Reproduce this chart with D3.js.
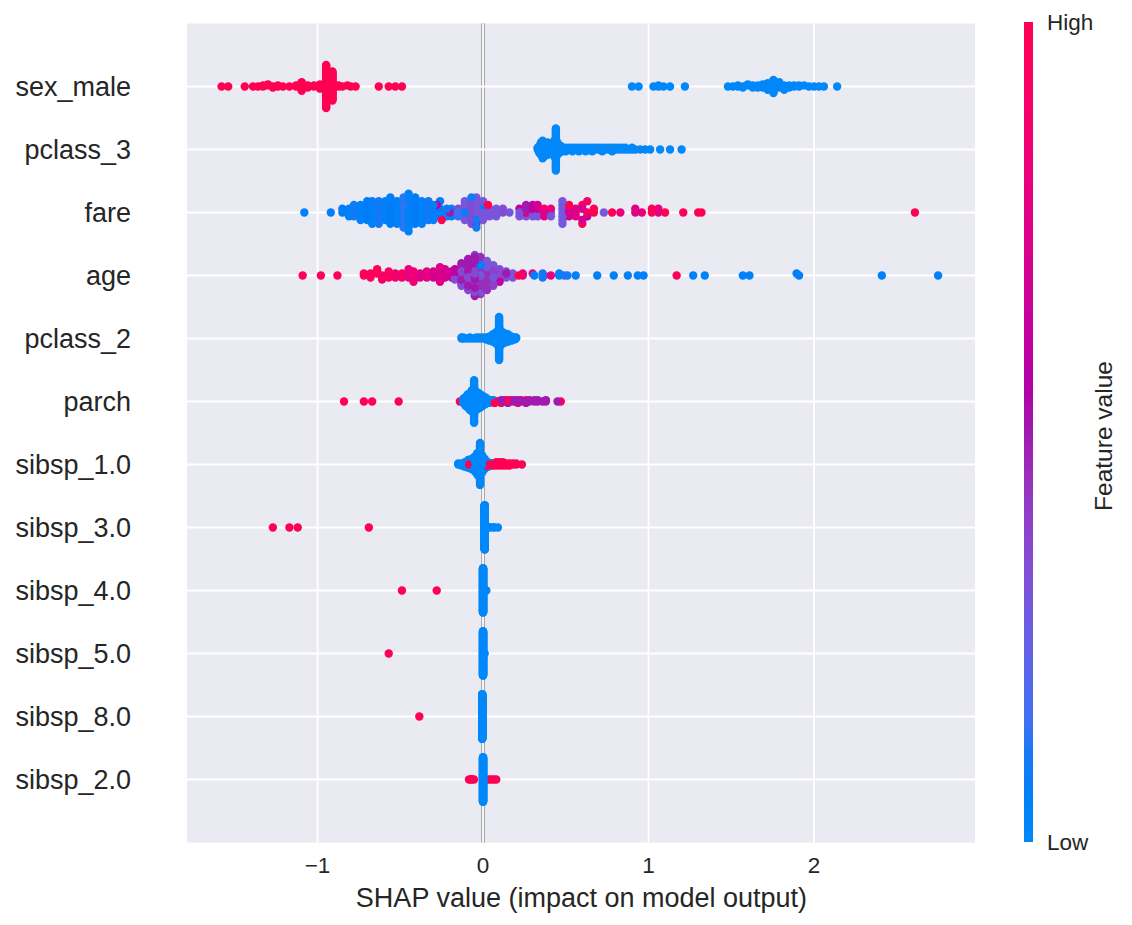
<!DOCTYPE html>
<html>
<head>
<meta charset="utf-8">
<script src="https://cdn.jsdelivr.net/npm/d3@7"></script>
<style>
  body { margin: 0; background: #fff; }
  text { font-family: "Liberation Sans", Arial, sans-serif; fill: #262626; }
</style>
</head>
<body>
<div id="chart"></div>
<script>
// features, top to bottom
const featureNames = ['sex_male', 'pclass_3', 'fare', 'age', 'pclass_2', 'parch',
  'sibsp_1.0', 'sibsp_3.0', 'sibsp_4.0', 'sibsp_5.0', 'sibsp_8.0', 'sibsp_2.0'];
const xTicks = [-1, 0, 1, 2];
const xTickLabels = ['\u22121', '0', '1', '2'];
const xTitle = 'SHAP value (impact on model output)';
const colorbarLabels = { low: 'Low', high: 'High', title: 'Feature value' };

// each entry: [shap value, feature value scaled 0 (low) .. 1 (high), number of samples]
const sexMale = [
  [-1.58,1,1],[-1.54,1,1],[-1.44,1,1],[-1.39,1,1],[-1.36,1,1],[-1.33,1,2],[-1.30,1,2],[-1.27,1,2],[-1.24,1,2],[-1.21,1,1],
  [-1.17,1,1],[-1.13,1,2],[-1.096,1,9],[-1.059,1,3],[-1.022,1,2],[-0.985,1,5],[-0.948,1,41],[-0.91,1,28],
  [-0.873,1,2],[-0.85,1,1],[-0.82,1,1],[-0.80,1,1],[-0.77,1,1],[-0.63,1,1],[-0.57,1,1],[-0.53,1,1],[-0.49,1,1],
  [0.90,0,1],[0.94,0,1],[1.03,0,1],[1.06,0,2],[1.09,0,1],[1.13,0,1],[1.22,0,1],
  [1.48,0,1],[1.51,0,1],[1.54,0,2],[1.57,0,2],[1.60,0,2],[1.63,0,3],[1.66,0,3],[1.69,0,4],[1.72,0,7],[1.755,0,13],[1.79,0,5],
  [1.82,0,3],[1.85,0,3],[1.88,0,2],[1.91,0,2],[1.94,0,1],[1.97,0,1],[2.00,0,1],[2.03,0,1],[2.06,0,1],[2.14,0,1]
];
const pclass3 = [
  [0.33,0,2],[0.34,0,5],[0.35,0,8],[0.36,0,11],[0.37,0,9],[0.38,0,7],[0.39,0,8],[0.40,0,6],[0.41,0,5],[0.42,0,6],
  [0.43,0,10],[0.44,0,25],[0.45,0,8],[0.46,0,5],[0.47,0,4],[0.48,0,3],
  [0.50,0,3],[0.52,0,2],[0.54,0,3],[0.56,0,2],[0.58,0,3],[0.60,0,2],[0.62,0,3],[0.64,0,2],[0.66,0,3],[0.68,0,2],
  [0.70,0,2],[0.72,0,3],[0.74,0,2],[0.76,0,2],[0.78,0,3],[0.80,0,2],[0.82,0,2],[0.84,0,2],[0.86,0,2],[0.88,0,1],
  [0.90,0,2],[0.92,0,1],[0.95,0,1],[0.98,0,1],[1.01,0,1],[1.07,0,1],[1.13,0,1],[1.20,0,1]
];
const fare = [
  [-1.08,0.05,1],[-0.92,0.05,1],[-0.85,0.08,2],[-0.81,0.05,3],[-0.78,0.1,4],[-0.74,0.05,5],[-0.70,0.08,6],[-0.67,0.05,6],[-0.67,1,1],
  [-0.63,0.1,7],[-0.59,0.05,6],[-0.56,0.08,8],[-0.52,0.05,7],[-0.48,0.12,9],[-0.45,0.05,11],[-0.41,0.08,8],[-0.37,0.05,7],[-0.33,0.1,6],
  [-0.30,0.05,5],[-0.28,0.6,1],[-0.26,0.08,4],[-0.25,1,1],[-0.22,0.1,3],[-0.20,0.5,1],[-0.19,0.05,2],[-0.15,0.15,2],[-0.15,0.35,1],
  [-0.11,0.3,4],[-0.11,0.1,2],[-0.07,0.35,5],[-0.07,0.1,3],[-0.04,0.3,5],[-0.04,0.5,2],[-0.04,0.1,2],[0.00,0.3,4],[0.00,0.08,2],
  [0.03,1,1],[0.04,0.3,3],[0.08,0.3,3],[0.12,0.35,2],[0.16,0.3,1],
  [0.22,0.3,2],[0.22,0.6,1],[0.26,0.5,2],[0.26,0.75,1],[0.26,0.3,1],[0.30,0.6,2],[0.30,0.3,1],[0.30,1,1],
  [0.33,0.7,2],[0.33,0.3,2],[0.37,0.75,2],[0.37,0.95,1],[0.41,0.3,2],[0.41,0.8,1],
  [0.48,0.28,7],
  [0.52,1,2],[0.52,0.7,2],[0.56,0.75,2],[0.56,1,1],[0.60,0.7,2],[0.60,1,2],[0.63,0.9,2],[0.63,0.6,1],[0.67,1,2],
  [0.73,0.3,1],[0.78,1,1],[0.83,0.8,1],[0.92,0.75,2],[0.96,0.8,1],[1.02,1,2],[1.06,0.8,2],[1.10,1,1],
  [1.21,1,1],[1.30,1,1],[1.32,1,1],[2.61,1,1]
];
const age = [
  [-1.09,0.95,1],[-0.98,0.95,1],[-0.88,1,1],
  [-0.72,1,2],[-0.68,0.95,3],[-0.64,1,3],[-0.61,0.9,3],[-0.57,0.95,4],[-0.53,0.85,3],[-0.49,0.9,3],[-0.45,0.8,3],
  [-0.42,0.85,4],[-0.38,0.75,3],[-0.34,0.8,4],[-0.30,0.7,4],[-0.26,0.75,4],[-0.23,0.7,4],[-0.19,0.65,4],
  [-0.17,0.6,4],[-0.17,0.35,2],[-0.13,0.5,8],[-0.13,0.35,4],[-0.09,0.5,11],[-0.09,0.35,5],[-0.05,0.5,14],[-0.05,0.35,7],
  [-0.015,0.45,12],[-0.015,0.3,6],[-0.015,0.05,1],[0.024,0.45,9],[0.024,0.3,6],[0.062,0.4,6],[0.062,0.3,5],
  [0.10,0.35,4],[0.10,0.6,3],[0.14,0.35,3],[0.14,0.5,1],
  [0.18,0.3,2],[0.18,0.1,1],[0.215,1,1],[0.24,0.8,2],[0.30,0.8,1],[0.31,0.05,1],[0.36,0.1,2],[0.37,0.3,1],
  [0.41,0.8,1],[0.46,0.05,2],[0.49,0.3,1],[0.51,0.1,1],[0.56,0.05,1],
  [0.69,0.05,1],[0.79,0.05,1],[0.875,0.05,1],[0.935,0.05,1],[0.97,0.05,1],[1.17,1,1],[1.27,0.05,1],[1.34,0.05,1],
  [1.57,0.05,1],[1.61,0.05,1],[1.895,0.05,1],[1.91,0.05,1],[2.41,0.05,1],[2.75,0.05,1]
];
const pclass2 = [
  [-0.13,0,2],[-0.12,0,2],[-0.10,0,1],[-0.08,0,2],[-0.06,0,1],[-0.04,0,2],[-0.02,0,2],[0.0,0,2],
  [0.02,0,3],[0.04,0,5],[0.06,0,8],[0.08,0,12],[0.097,0,41],[0.11,0,14],[0.13,0,10],[0.15,0,8],[0.17,0,5],[0.19,0,3],[0.20,0,2]
];
const parch = [
  [-0.84,1,1],[-0.72,1,1],[-0.67,1,1],[-0.51,1,1],[-0.14,1,1],[-0.106,1,1],
  [-0.119,0,4],[-0.106,0,6],[-0.093,0,10],[-0.080,0,13],[-0.067,0,16],[-0.054,0,31],[-0.041,0,14],[-0.028,0,12],
  [-0.015,0,10],[-0.002,0,8],[0.012,0,6],[0.025,0,4],[0.038,0,3],[0.051,0,2],[0.064,0,1],
  [0.07,1,2],[0.09,1,1],[0.11,1,2],[0.11,0.5,1],[0.13,0.5,2],[0.15,0.5,2],[0.15,1,1],[0.17,0.5,2],[0.19,0.5,2],
  [0.21,0.5,2],[0.21,1,1],[0.23,0.5,2],[0.26,1,1],[0.26,0.5,2],[0.28,0.5,2],[0.31,0.5,2],[0.33,0.5,2],[0.36,0.5,1],
  [0.38,0.5,2],[0.45,0.5,1],[0.47,1,1]
];
const sibsp1 = [
  [-0.15,0,2],[-0.13,0,3],[-0.11,0,5],[-0.09,0,8],[-0.07,0,10],[-0.05,0,14],[-0.035,0,20],[-0.018,0,37],
  [-0.005,0,16],[0.01,0,10],[0.03,0,5],[0.05,0,3],[0.065,0,2],
  [-0.085,1,1],[-0.018,1,1],[0.0,1,2],[0.02,1,3],[0.04,1,3],[0.06,1,3],[0.08,1,4],[0.10,1,4],[0.12,1,4],
  [0.14,1,3],[0.16,1,3],[0.18,1,2],[0.20,1,2],[0.235,1,1]
];
const sibsp3 = [[-1.27,1,1],[-1.17,1,1],[-1.12,1,1],[-0.69,1,1],[0.01,0,168],[0.04,0,2],[0.065,0,2],[0.09,0,1]];
const sibsp4 = [[-0.49,1,1],[-0.28,1,1],[0.0,0,170],[0.012,0,2],[0.02,0,1]];
const sibsp5 = [[-0.57,1,1],[0.0,0,172],[0.01,0,1]];
const sibsp8 = [[-0.385,1,1],[-0.005,0,173]];
const sibsp2 = [[-0.085,1,1],[-0.07,1,2],[-0.055,1,1],[0.035,1,1],[0.05,1,1],[0.065,1,1],[0.08,1,1],[0.0,0,165]];

const rows = [sexMale, pclass3, fare, age, pclass2, parch, sibsp1, sibsp3, sibsp4, sibsp5, sibsp8, sibsp2];

// shap red-blue colormap (lch interpolation with a darker middle)
function shapColor(t) {
  const l = t < 0.5 ? 54 - 28 * t : 40 + 28 * (t - 0.5);
  const c = 70 + 20 * t;
  const h = 266.93 + 113.39 * t;
  return d3.hcl(h, c, l).formatHex();
}

// beeswarm offsets, same binning idea as shap's summary plot
function swarm(xs) {
  const nbins = 100, rowHeight = 0.4;
  const lo = d3.min(xs), hi = d3.max(xs);
  const quant = xs.map(v => Math.round(nbins * (v - lo) / (hi - lo + 1e-8)));
  const key = i => (i * 0.6180339887) % 1;
  const order = d3.range(xs.length).sort((a, b) => quant[a] - quant[b] || key(a) - key(b));
  const ys = new Array(xs.length).fill(0);
  let layer = 0, last = -1;
  for (const i of order) {
    if (quant[i] !== last) layer = 0;
    ys[i] = Math.ceil(layer / 2) * ((layer % 2) * 2 - 1);
    layer++;
    last = quant[i];
  }
  const k = 0.9 * (rowHeight / (d3.max(ys) + 1));
  return ys.map(v => v * k);
}

const W = 1132, H = 925;
const svg = d3.select('#chart').append('svg').attr('width', W).attr('height', H);

const x = d3.scaleLinear().domain([-1.789, 2.973]).range([187, 975]);
const y = d3.scaleLinear().domain([-1, featureNames.length]).range([842.5, 23.5]);
const nRows = featureNames.length;

// plot background
svg.append('rect')
  .attr('x', x.range()[0]).attr('y', y.range()[1])
  .attr('width', x.range()[1] - x.range()[0])
  .attr('height', y.range()[0] - y.range()[1])
  .attr('fill', '#eaeaf2');

// zero line under the grid
svg.append('line')
  .attr('x1', x(0)).attr('x2', x(0))
  .attr('y1', y.range()[1]).attr('y2', y.range()[0])
  .attr('stroke', '#999999').attr('stroke-width', 3.6);

// grid
const grid = svg.append('g').attr('stroke', '#fff').attr('stroke-width', 1.8);
grid.selectAll('line.v').data(xTicks).enter().append('line')
  .attr('x1', d => x(d)).attr('x2', d => x(d))
  .attr('y1', y.range()[1]).attr('y2', y.range()[0]);
grid.selectAll('line.h').data(d3.range(nRows)).enter().append('line')
  .attr('x1', x.range()[0]).attr('x2', x.range()[1])
  .attr('y1', d => y(d)).attr('y2', d => y(d));

// points
const dots = svg.append('g');
rows.forEach((entries, r) => {
  const pts = [];
  entries.forEach(([v, fv, n]) => { for (let j = 0; j < n; j++) pts.push({ v, fv }); });
  const offs = swarm(pts.map(p => p.v));
  const pos = nRows - 1 - r;
  pts.forEach((p, i) => { p.y = pos + offs[i]; p.key = (i * 0.7548776662) % 1; });
  if (featureNames[r] !== 'sibsp_2.0') pts.sort((a, b) => a.key - b.key);
  dots.append('g').selectAll('circle').data(pts).enter().append('circle')
    .attr('cx', d => x(d.v))
    .attr('cy', d => y(d.y))
    .attr('r', 4.2)
    .attr('fill', d => shapColor(d.fv));
});

// y labels
svg.append('g').selectAll('text').data(featureNames).enter().append('text')
  .attr('x', 131)
  .attr('y', (d, i) => y(nRows - 1 - i))
  .attr('dy', '0.36em')
  .attr('text-anchor', 'end')
  .attr('font-size', 27)
  .text(d => d);

// x ticks and title
svg.append('g').selectAll('text').data(xTicks).enter().append('text')
  .attr('x', d => x(d))
  .attr('y', 873)
  .attr('text-anchor', 'middle')
  .attr('font-size', 22.5)
  .text((d, i) => xTickLabels[i]);

svg.append('text')
  .attr('x', x(0.595)).attr('y', 907)
  .attr('text-anchor', 'middle')
  .attr('font-size', 27)
  .text(xTitle);

// colorbar
const cbTop = 22, cbBottom = 842, cbX = 1024, cbW = 9;
const grad = svg.append('defs').append('linearGradient')
  .attr('id', 'cb').attr('x1', 0).attr('y1', 1).attr('x2', 0).attr('y2', 0);
d3.range(0, 1.0001, 0.05).forEach(t => {
  grad.append('stop').attr('offset', t).attr('stop-color', shapColor(t));
});
svg.append('rect')
  .attr('x', cbX).attr('y', cbTop).attr('width', cbW).attr('height', cbBottom - cbTop)
  .attr('fill', 'url(#cb)');
svg.append('text').attr('x', 1047).attr('y', cbTop + 8).attr('font-size', 22.5).text(colorbarLabels.high);
svg.append('text').attr('x', 1047).attr('y', cbBottom + 8).attr('font-size', 22.5).text(colorbarLabels.low);
svg.append('text')
  .attr('transform', `translate(1112,${(cbTop + cbBottom) / 2 + 4}) rotate(-90)`)
  .attr('text-anchor', 'middle')
  .attr('font-size', 24.5)
  .text(colorbarLabels.title);
</script>
</body>
</html>
